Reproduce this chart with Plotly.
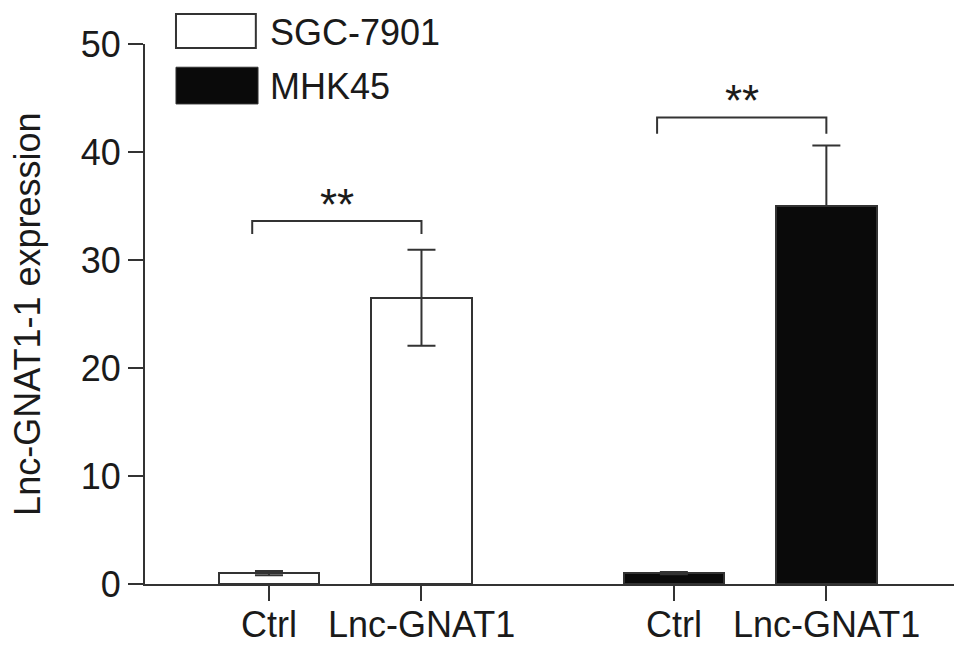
import plotly.graph_objects as go

# ---- data ----
categories = ["Ctrl", "Lnc-GNAT1"]
series_names = ["SGC-7901", "MHK45"]
sgc_values = [1.0, 26.5]
sgc_errors = [0.2, 4.45]
mhk_values = [1.0, 35.0]
mhk_errors_plus = [0.1, 5.6]
mhk_errors_minus = [0.1, 0.0]   # lower whisker hidden behind the black bar
sgc_pos = [1.0, 2.0]
mhk_pos = [3.655, 4.655]
y_ticks = [0, 10, 20, 30, 40, 50]
y_title = "Lnc-GNAT1-1 expression"
sig_label = "**"
# bracket levels (data units): top line, end drops
sgc_bracket = [33.6, 32.4]
mhk_bracket = [43.2, 41.7]
bracket_left_offset = 0.11

FONT = "Liberation Sans, Arial, Helvetica, sans-serif"
EDGE = "#333333"
TXT = "#1a1a1a"
FS = 36

fig = go.Figure()
fig.add_trace(go.Bar(
    x=sgc_pos, y=sgc_values, width=0.66, name=series_names[0],
    marker=dict(color="white", line=dict(color=EDGE, width=2)),
    error_y=dict(type="data", array=sgc_errors, color=EDGE, thickness=2, width=14),
    showlegend=False,
))
fig.add_trace(go.Bar(
    x=mhk_pos, y=mhk_values, width=0.66, name=series_names[1],
    marker=dict(color="#0a0a0a", line=dict(color=EDGE, width=2)),
    error_y=dict(type="data", symmetric=False, array=mhk_errors_plus,
                 arrayminus=mhk_errors_minus, color=EDGE, thickness=2, width=14),
    showlegend=False,
))

# significance brackets
for pos, (top, drop) in [(sgc_pos, sgc_bracket), (mhk_pos, mhk_bracket)]:
    x0 = pos[0] - bracket_left_offset
    x1 = pos[1]
    fig.add_shape(type="path",
                  path=f"M {x0},{drop} L {x0},{top} L {x1},{top} L {x1},{drop}",
                  line=dict(color=EDGE, width=2), xref="x", yref="y")
    fig.add_annotation(x=(x0 + x1) / 2, y=top, text=sig_label, showarrow=False,
                       xref="x", yref="y", yanchor="bottom", yshift=-10,
                       font=dict(family=FONT, size=44, color=TXT))

# x category labels (placed just under the tick marks)
for xv, lab in zip(sgc_pos + mhk_pos, categories + categories):
    fig.add_annotation(x=xv, y=0, xref="x", yref="paper", text=lab, showarrow=False,
                       xanchor="center", yanchor="middle", yshift=-40,
                       font=dict(family=FONT, size=FS, color=TXT))

# legend (drawn manually, large swatches)
fig.add_shape(type="rect", xref="paper", yref="paper",
              x0=0.0383, x1=0.137, y0=0.9926, y1=1.0556,
              fillcolor="white", line=dict(color=EDGE, width=2))
fig.add_shape(type="rect", xref="paper", yref="paper",
              x0=0.0383, x1=0.1397, y0=0.889, y1=0.957,
              fillcolor="#0a0a0a", line=dict(color=EDGE, width=1))
fig.add_annotation(x=0.152, y=1.022, xref="paper", yref="paper", text=series_names[0],
                   showarrow=False, xanchor="left", yanchor="middle",
                   font=dict(family=FONT, size=FS, color=TXT))
fig.add_annotation(x=0.152, y=0.922, xref="paper", yref="paper", text=series_names[1],
                   showarrow=False, xanchor="left", yanchor="middle",
                   font=dict(family=FONT, size=FS, color=TXT))

# y-axis title (placed in the left margin)
fig.add_annotation(x=-0.146, y=0.5, xref="paper", yref="paper", text=y_title,
                   textangle=-90, showarrow=False, xanchor="center", yanchor="middle",
                   font=dict(family=FONT, size=FS, color=TXT))

# page body has an 8px default margin, so the figure is sized to fit the window
fig.update_layout(
    width=961, height=642,
    margin=dict(l=137, r=15, t=36, b=66),
    plot_bgcolor="white", paper_bgcolor="white",
    font=dict(family=FONT, size=FS, color=TXT),
    bargap=0,
    xaxis=dict(range=[0.187, 5.492], showline=True, linecolor=EDGE, linewidth=2,
               ticks="outside", ticklen=15, tickwidth=2, tickcolor=EDGE,
               tickvals=sgc_pos + mhk_pos, showticklabels=False,
               showgrid=False, zeroline=False, automargin=False),
    yaxis=dict(range=[0, 50], showline=True, linecolor=EDGE, linewidth=2,
               ticks="outside", ticklen=15, tickwidth=2, tickcolor=EDGE,
               tickvals=y_ticks, showgrid=False, zeroline=False, automargin=False,
               tickfont=dict(family=FONT, size=FS, color=TXT)),
)

fig.write_html("out.html")
